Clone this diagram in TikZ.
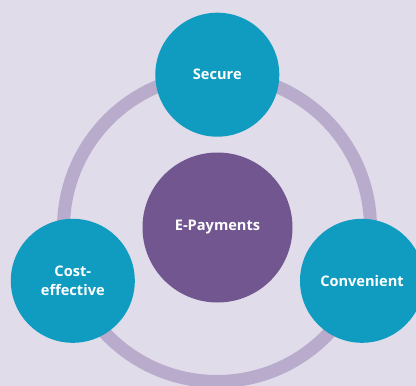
\documentclass[tikz,border=0pt]{standalone}
\usepackage{fontspec}
\setmainfont{Open Sans}
\definecolor{bgcol}{HTML}{E0DCEA}
\definecolor{ringcol}{HTML}{B9ABCC}
\definecolor{tealcol}{HTML}{0F9CC0}
\definecolor{hubcol}{HTML}{715690}
\begin{document}
\begin{tikzpicture}[x=1pt,y=-1pt,
  petal/.style={circle,fill=tealcol,minimum size=124pt,inner sep=0pt,
    text=white,font=\fontsize{14.6}{18.7}\selectfont\bfseries,align=center},
  hub/.style={circle,fill=hubcol,minimum size=150pt,inner sep=0pt,
    text=white,font=\fontsize{14.6}{18.7}\selectfont\bfseries,align=center},
  ring/.style={draw=ringcol,line width=13pt}]
  \fill[bgcol] (0,0) rectangle (416,386);
  \useasboundingbox (0,0) rectangle (416,386);
  % surrounding ring
  \coordinate (ringc) at (217,228);
  \draw[ring] (ringc) circle[radius=153.5pt];
  % central hub
  \node[hub] (epay) at (217.5,227.5) {E-Payments};
  % outer benefits
  \node[petal] (secure) at (217.3,74.7) {Secure};
  \node[petal] (cost) at (72.8,280.8) {Cost-\\effective};
  \node[petal] (conv) at (362,280.8) {Convenient};
\end{tikzpicture}
\end{document}
